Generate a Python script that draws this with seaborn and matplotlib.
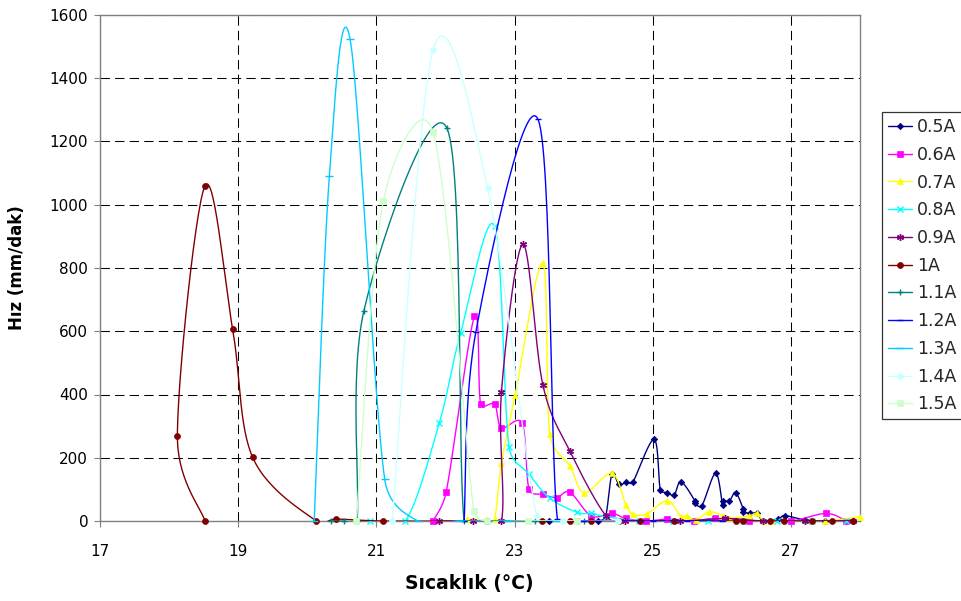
import numpy as np
import pandas as pd
import matplotlib
matplotlib.use("Agg")
import matplotlib.pyplot as plt
import seaborn as sns
from matplotlib.lines import Line2D

sns.set_theme(style="white")
plt.rcParams["font.family"] = ["DejaVu Sans"]

# ---------------- data ----------------
series_labels = ["0.5A", "0.6A", "0.7A", "0.8A", "0.9A", "1A",
                 "1.1A", "1.2A", "1.3A", "1.4A", "1.5A"]

x_05 = [23.5, 23.92, 24.21, 24.32, 24.41, 24.51, 24.62, 24.71, 25.02, 25.11, 25.21,
        25.31, 25.41, 25.61, 25.61, 25.71, 25.91, 26.01, 26.01, 26.11, 26.2, 26.31,
        26.31, 26.41, 26.51, 26.6, 26.81, 26.91, 27.21, 27.5, 27.9]
y_05 = [0, 0, 0, 17, 149, 116, 122, 122, 258, 98, 90,
        82, 124, 64, 56, 48, 151, 51, 64, 64, 90, 38,
        29, 24, 24, 0, 6, 17, 3, 0, 0]

x_06 = [21.82, 22.01, 22.42, 22.51, 22.71, 22.81, 23.11, 23.21, 23.41, 23.61, 23.8,
        24.11, 24.41, 24.61, 24.9, 25.21, 25.6, 25.9, 26.4, 27.0, 27.51, 27.8]
y_06 = [0, 91, 648, 369, 369, 295, 309, 100, 84, 74, 91,
        16, 24, 8, 0, 6, 0, 8, 0, 0, 24, 0]

x_07 = [22.31, 22.6, 22.71, 22.81, 23.01, 23.41, 23.51, 23.8, 24.01, 24.41, 24.61,
        24.71, 24.91, 25.21, 25.41, 25.5, 25.62, 25.82, 26.01, 26.11, 26.4, 26.51,
        26.6, 26.71, 27.5, 28.0]
y_07 = [5, 3, 5, 182, 400, 815, 274, 174, 90, 151, 51,
        22, 22, 64, 14, 17, 3, 29, 17, 8, 17, 24,
        0, 0, 0, 14]

x_08 = [20.91, 21.42, 21.91, 22.22, 22.71, 22.92, 23.21, 23.51, 23.91, 24.11, 24.32,
        24.8, 25.3, 25.8, 26.3, 26.8, 27.3, 27.8]
y_08 = [0, 0, 309, 595, 933, 235, 148, 72, 27, 24, 14,
        0, 0, 0, 0, 0, 0, 0]

x_09 = [21.9, 22.4, 22.81, 22.81, 23.12, 23.41, 23.8, 24.32, 24.6, 25.4, 26.05, 26.6, 27.2, 27.9]
y_09 = [0, 0, 0, 407, 875, 430, 221, 17, 0, 0, 8, 0, 0, 0]

x_10 = [18.52, 18.12, 18.52, 18.92, 19.21, 20.13, 20.42, 21.1, 22.6, 23.4, 23.8,
        24.11, 24.51, 24.81, 25.31, 26.2, 26.3, 26.7, 26.9, 27.3, 27.6, 27.9]
y_10 = [0, 269, 1060, 606, 201, 0, 6, 0, 0, 0, 0,
        0, 0, 0, 0, 0, 0, 0, 0, 0, 0, 0]

x_11 = [20.35, 20.53, 20.72, 20.82, 22.02, 22.27, 22.62, 23.3, 24.0]
y_11 = [0, 0, 0, 665, 1243, 0, 0, 0, 0]

x_12 = [22.27, 22.44, 23.34, 23.62, 24.0, 24.5, 25.0, 25.5, 26.0]
y_12 = [0, 598, 1270, 5, 0, 0, 0, 0, 0]

x_13 = [20.1, 20.32, 20.62, 21.12, 21.6, 22.2, 22.9, 23.6]
y_13 = [0, 1092, 1523, 133, 0, 0, 0, 0]

x_14 = [21.23, 21.82, 22.61, 23.32, 23.7, 24.5]
y_14 = [0, 1489, 1052, 16, 0, 0]

x_15 = [20.71, 21.1, 21.82, 22.41, 22.6, 23.2, 23.9]
y_15 = [0, 1012, 1229, 33, 0, 0, 0]

x_ticks = [17, 19, 21, 23, 25, 27]
y_ticks = [0, 200, 400, 600, 800, 1000, 1200, 1400, 1600]

# ---------------- styles ----------------
colors = ["#000080", "#FF00FF", "#FFFF00", "#00FFFF", "#800080", "#800000",
          "#008080", "#0000FF", "#00CCFF", "#CCFFFF", "#CCFFCC"]
markers = ["D", "s", "^", "x", (6, 2, 0), "o", "+", "_", "_", "o", "s"]
msizes = [3.3, 3.8, 4.5, 4.5, 5.0, 4.3, 5.0, 4.0, 6.0, 4.3, 3.8]

all_x = [x_05, x_06, x_07, x_08, x_09, x_10, x_11, x_12, x_13, x_14, x_15]
all_y = [y_05, y_06, y_07, y_08, y_09, y_10, y_11, y_12, y_13, y_14, y_15]

W, H = 962, 601
fig = plt.figure(figsize=(W / 100, H / 100), dpi=100)
ax = fig.add_axes([100 / W, 1 - 521 / H, 760 / W, 506 / H])
ax.set_xlim(17, 28)
ax.set_ylim(0, 1600)


def excel_smooth(xs, ys, n=30):
    """Bezier smoothing through the points (Excel-like 'smoothed line')."""
    pts = ax.transData.transform(np.column_stack([xs, ys]).astype(float))
    N = len(pts)
    out = []
    for i in range(N - 1):
        p0 = pts[i - 1] if i > 0 else pts[i]
        p1, p2 = pts[i], pts[i + 1]
        p3 = pts[i + 2] if i + 2 < N else pts[i + 1]
        d12 = np.linalg.norm(p2 - p1)
        c1 = (p2 - p0) / 6.0
        c2 = (p3 - p1) / 6.0
        for c in (c1, c2):
            L = np.linalg.norm(c)
            if L > 0.5 * d12 and L > 0:
                c *= 0.5 * d12 / L
        b1 = p1 + c1
        b2 = p2 - c2
        t = np.linspace(0, 1, n)[:, None]
        seg = ((1 - t) ** 3) * p1 + 3 * ((1 - t) ** 2) * t * b1 + 3 * (1 - t) * t ** 2 * b2 + t ** 3 * p2
        out.append(seg if i == N - 2 else seg[:-1])
    res = np.vstack(out)
    return ax.transData.inverted().transform(res)


for k, (xs, ys) in enumerate(zip(all_x, all_y)):
    sm = excel_smooth(xs, ys)
    df = pd.DataFrame({"x": sm[:, 0], "y": sm[:, 1]})
    sns.lineplot(data=df, x="x", y="y", sort=False, estimator=None,
                 color=colors[k], lw=1.0, ax=ax, zorder=3 + k * 0.1)
    m = markers[k]
    filled = m in ("D", "s", "^", "o")
    ax.plot(xs, ys, ls="none", marker=m, ms=msizes[k],
            mfc=colors[k] if filled else "none", mec=colors[k],
            mew=1.0 if not filled else 0.5, clip_on=False, zorder=3.05 + k * 0.1)

# ---------------- axes cosmetics ----------------
ax.set_xticks(x_ticks)
ax.set_yticks(y_ticks)
ax.set_xticklabels([str(v) for v in x_ticks])
ax.set_yticklabels([str(v) for v in y_ticks])
ax.grid(True, color="black", lw=0.75, ls=(0, (9, 5)))
ax.set_axisbelow(True)
for s in ax.spines.values():
    s.set_color("#808080")
    s.set_linewidth(1.0)
    s.set_visible(True)
ax.tick_params(axis="both", which="major", direction="out", color="#808080",
               length=4, width=0.8, labelsize=11, labelcolor="black",
               bottom=True, left=True)
ax.tick_params(axis="x", pad=12.5)
ax.tick_params(axis="y", pad=4.5)

ax.set_xlabel("Sıcaklık (°C)", fontsize=13.5, fontweight="bold", color="black")
ax.set_ylabel("Hız (mm/dak)", fontsize=12, fontweight="bold", color="black")
ax.xaxis.set_label_coords((469 - 100) / 760, -(583 - 521) / 506)
ax.xaxis.label.set_va("center")
ax.yaxis.set_label_coords(-(100 - 17) / 760, 0.5)
ax.yaxis.label.set_va("center")

handles = []
for k in range(len(series_labels)):
    m = markers[k]
    filled = m in ("D", "s", "^", "o")
    handles.append(Line2D([], [], color=colors[k], lw=1.0, marker=m, ms=msizes[k],
                          mfc=colors[k] if filled else "none", mec=colors[k],
                          mew=1.0 if not filled else 0.5))
leg = fig.legend(handles, series_labels, loc="upper left",
                 bbox_to_anchor=(882 / W, 1 - 112 / H), bbox_transform=fig.transFigure,
                 frameon=True, fancybox=False, edgecolor="black", fontsize=12.5,
                 handlelength=1.4, handletextpad=0.25, labelspacing=0.56,
                 borderpad=0.35, borderaxespad=0)
leg.get_frame().set_linewidth(0.9)

fig.savefig("out.png", dpi=100, facecolor="white")
